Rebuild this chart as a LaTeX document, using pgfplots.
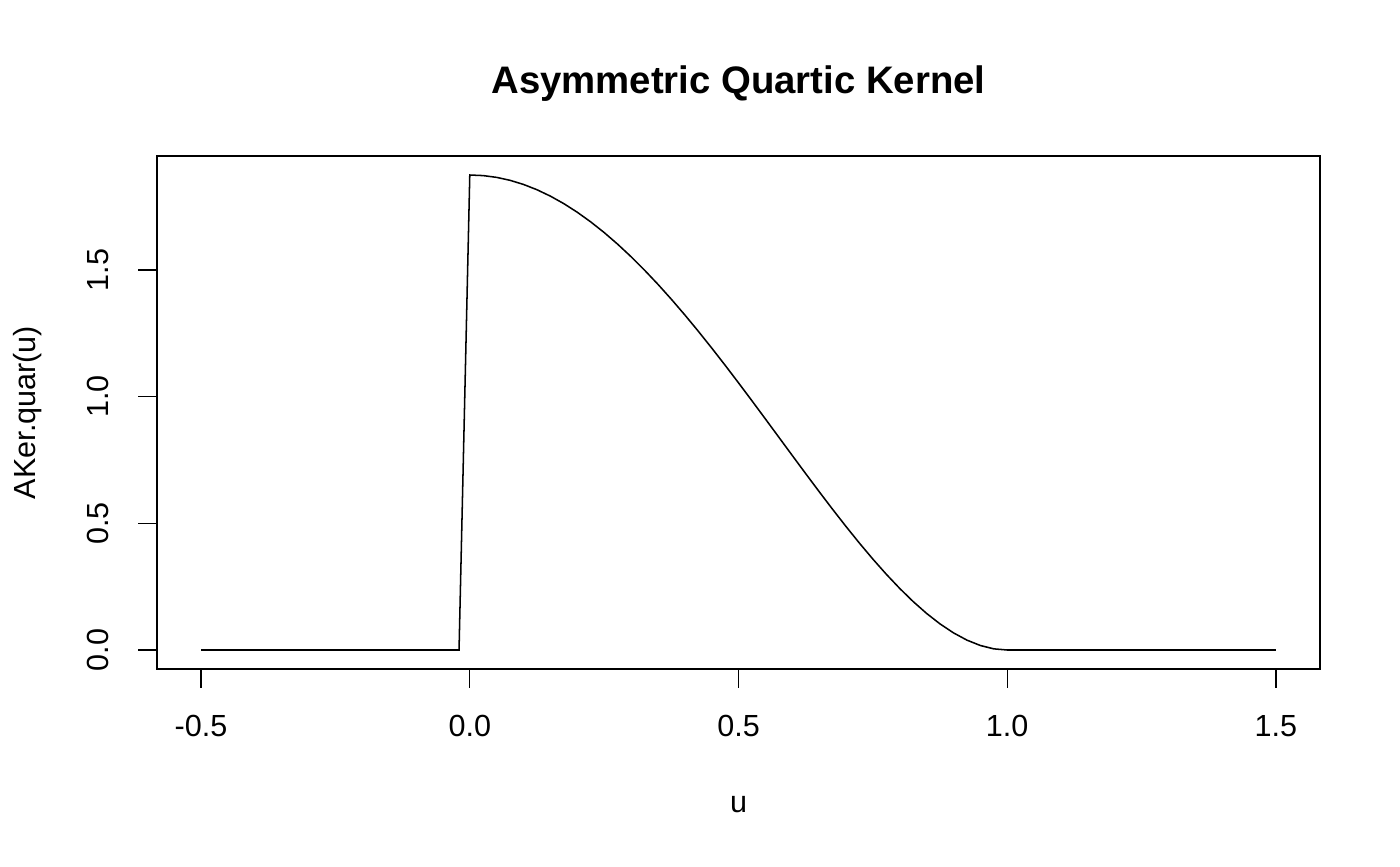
\documentclass[border=0pt]{standalone}
\usepackage{fontspec}
\setmainfont{Liberation Sans}
\usepackage{pgfplots}
\pgfplotsset{compat=1.18}
\begin{document}
\begin{tikzpicture}
\useasboundingbox (0pt,0pt) rectangle (504pt,311.76pt);
\begin{axis}[
  at={(56.52pt,70.92pt)}, anchor=south west,
  scale only axis,
  width=418.68pt, height=184.68pt,
  xmin=-0.582, xmax=1.582,
  ymin=-0.075, ymax=1.95,
  axis line style={line width=0.5pt},
  tick style={line width=0.5pt, black},
  tick align=outside,
  major tick length=6.8pt,
  xtick pos=bottom, ytick pos=left,
  xtick={-0.5,0,0.5,1,1.5},
  ytick={0,0.5,1,1.5},
  xticklabels={-0.5,0.0,0.5,1.0,1.5},
  yticklabels={0.0,0.5,1.0,1.5},
  tick label style={font=\fontsize{11}{13}\selectfont},
  xticklabel style={anchor=center, yshift=-13.7pt},
  yticklabel style={rotate=90, anchor=center, yshift=14.4pt},
  xlabel={u},
  ylabel={AKer.quar(u)},
  label style={font=\fontsize{11}{13}\selectfont},
  xlabel style={at={(axis description cs:0.5,-0.265)}, anchor=center},
  ylabel style={at={(axis description cs:-0.111,0.5)}, anchor=center, rotate=0},
  title={\bfseries Asymmetric Quartic Kernel},
  title style={font=\fontsize{13.8}{16}\selectfont, at={(axis description cs:0.5,1.109)}, anchor=center},
]
\addplot[black, line width=0.55pt] coordinates {
(-0.5,0) (-0.02,0) (0,1.875)
(0.025,1.87266) (0.05,1.86564) (0.075,1.85397) (0.1,1.83769)
(0.125,1.81686) (0.15,1.79157) (0.175,1.76192) (0.2,1.728)
(0.225,1.68996) (0.25,1.64795) (0.275,1.60213) (0.3,1.55269)
(0.325,1.49983) (0.35,1.44376) (0.375,1.38473) (0.4,1.323)
(0.425,1.25883) (0.45,1.19251) (0.475,1.12436) (0.5,1.05469)
(0.525,0.98385) (0.55,0.91220) (0.575,0.84012) (0.6,0.768)
(0.625,0.69626) (0.65,0.62532) (0.675,0.55564) (0.7,0.48769)
(0.725,0.42194) (0.75,0.35889) (0.775,0.29906) (0.8,0.243)
(0.825,0.19125) (0.85,0.14439) (0.875,0.10300) (0.9,0.06769)
(0.925,0.03908) (0.95,0.01782) (0.975,0.00457) (1.0,0)
(1.5,0)
};
\end{axis}
\end{tikzpicture}
\end{document}
